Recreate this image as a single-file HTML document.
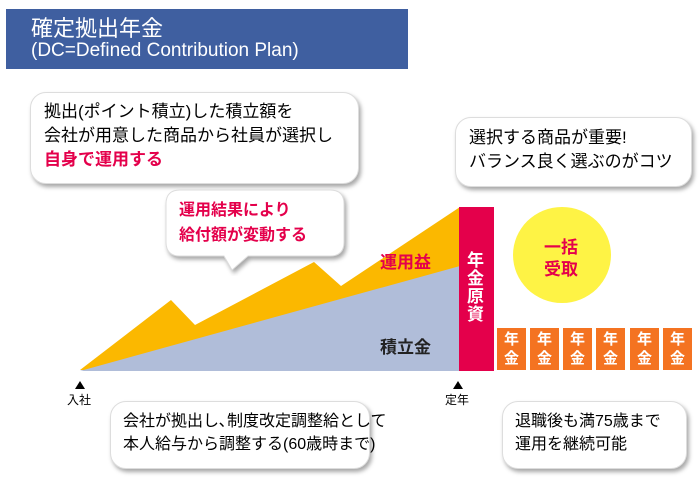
<!DOCTYPE html>
<html><head><meta charset="utf-8"><style>
body{margin:0;width:700px;height:480px;background:#fff;position:relative;overflow:hidden;font-family:"Liberation Sans","Noto Sans CJK JP",sans-serif}
.a{position:absolute}
.b{position:absolute;background:#fff;border-radius:16px;box-shadow:2px 3px 4px rgba(0,0,0,.35);border:1px solid #ddd}
.t{position:absolute;white-space:nowrap}
.ob{position:absolute;top:328px;width:29px;height:42px;background:#f47321;color:#fff;font-weight:bold;font-size:15px;line-height:19px;text-align:center;padding-top:2px;box-sizing:border-box}
</style></head><body>
<div class="a" style="left:6px;top:9px;width:402px;height:60px;background:#3f5fa0"></div>
<div class="t" style="left:31px;top:11px;color:#fff;font-size:22px">確定拠出年金</div>
<div class="t" style="left:31px;top:40px;color:#fff;font-size:19px">(DC=Defined Contribution Plan)</div>

<svg class="a" style="left:0;top:0" width="700" height="480">
<polygon points="80,370 171,300 195,325 314,262 341,286 460,207 460,370" fill="#fbb800"/>
<polygon points="80,371 460,266 460,371" fill="#b0bdd9"/>
<rect x="459" y="207" width="35" height="164" fill="#e4004b"/>
<ellipse cx="562" cy="255" rx="49" ry="48" fill="#fef345"/>
<polygon points="75,389 85,389 80,381" fill="#000"/>
<polygon points="453,389 463,389 458,381" fill="#000"/>
</svg>
<div class="t" style="left:380px;top:248px;color:#e4004b;font-weight:bold;font-size:17px">運用益</div>
<div class="t" style="left:380px;top:333px;color:#222;font-weight:bold;font-size:17px">積立金</div>
<div class="t" style="left:467px;top:252px;color:#fff;font-weight:bold;font-size:17px;width:18px;line-height:18px;white-space:normal">年金原資</div>
<div class="t" style="left:544px;top:237px;color:#e4004b;font-weight:bold;font-size:17px;line-height:22px;text-align:center">一括<br>受取</div>
<div class="ob" style="left:497px">年<br>金</div>
<div class="ob" style="left:530px">年<br>金</div>
<div class="ob" style="left:563px">年<br>金</div>
<div class="ob" style="left:596px">年<br>金</div>
<div class="ob" style="left:630px">年<br>金</div>
<div class="ob" style="left:663px">年<br>金</div>
<div class="t" style="left:67px;top:391px;font-size:12px">入社</div>
<div class="t" style="left:445px;top:391px;font-size:12px">定年</div>

<div class="b" style="left:30px;top:92px;width:327px;height:90px"></div>
<div class="t" style="left:44px;top:100px;font-size:17px;line-height:24px">拠出(ポイント積立)した積立額を<br>会社が用意した商品から社員が選択し<br><b style="color:#e4004b">自身で運用する</b></div>

<svg class="a" style="left:160px;top:186px" width="190" height="90">
<path d="M20,4 H170 Q184,4 184,18 V56 Q184,70 170,70 H88 L72,84 L64,70 H20 Q6,70 6,56 V18 Q6,4 20,4 Z" fill="#fff" stroke="#ddd" style="filter:drop-shadow(2px 3px 2px rgba(0,0,0,.35))"/>
</svg>
<div class="t" style="left:179px;top:198px;color:#e4004b;font-weight:bold;font-size:16px;line-height:25px">運用結果により<br>給付額が変動する</div>

<div class="b" style="left:455px;top:117px;width:235px;height:68px"></div>
<div class="t" style="left:469px;top:126px;font-size:17px;line-height:24px">選択する商品が重要!<br>バランス良く選ぶのがコツ</div>

<div class="b" style="left:110px;top:401px;width:258px;height:66px"></div>
<div class="t" style="left:123px;top:410px;font-size:16px;line-height:23px">会社が拠出し､制度改定調整給として<br>本人給与から調整する(60歳時まで)</div>

<div class="b" style="left:502px;top:401px;width:183px;height:66px"></div>
<div class="t" style="left:515px;top:410px;font-size:16px;line-height:23px">退職後も満75歳まで<br>運用を継続可能</div>
</body></html>
